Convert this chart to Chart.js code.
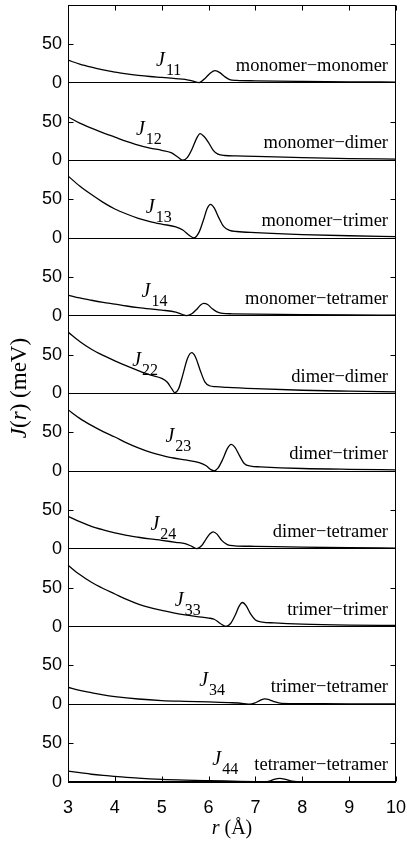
<!DOCTYPE html>
<html>
<head>
<meta charset="utf-8">
<script src="https://cdn.jsdelivr.net/npm/chart.js@4.4.0/dist/chart.umd.min.js"></script>
<style>
  html, body { margin: 0; padding: 0; background: #fff; }
  canvas { display: block; }
</style>
</head>
<body>
<canvas id="chart" width="407" height="841"></canvas>
<script>
// J(r) in meV, one pair of arrays per panel (r in Angstrom)
const r11 = [3, 3.25, 3.5, 3.75, 4, 4.25, 4.5, 4.75, 5, 5.3, 5.5, 5.65, 5.8, 5.94, 6.04, 6.14, 6.24, 6.34, 6.45, 6.6, 7, 8, 9, 10];
const j11 = [29, 24, 20, 16.5, 13.5, 11.3, 9.5, 8, 6.8, 5.3, 4.3, 2.3, 0.2, 6.5, 12.5, 15.5, 13, 8, 4, 3, 2.4, 1.6, 1.1, 0.8];

const r12 = [3, 3.25, 3.5, 3.75, 4, 4.25, 4.5, 4.75, 5, 5.2, 5.35, 5.45, 5.55, 5.65, 5.75, 5.82, 5.9, 6.0, 6.1, 6.2, 6.35, 6.6, 7, 8, 9, 10];
const j12 = [56, 48, 41.5, 35.5, 30, 24.5, 19.5, 15.8, 13, 10, 4, 0.3, 4, 15, 29, 34.5, 31, 23, 13, 8, 6.3, 5.8, 5.2, 3.5, 2.4, 1.7];

const r13 = [3, 3.25, 3.5, 3.75, 4, 4.25, 4.5, 4.75, 5, 5.3, 5.45, 5.6, 5.69, 5.8, 5.9, 5.97, 6.04, 6.12, 6.22, 6.32, 6.45, 6.6, 7, 8, 9, 10];
const j13 = [80, 67, 56, 46, 37.5, 31, 25.5, 21.3, 18, 14.5, 10.5, 3, 0.3, 8, 25, 38, 43.5, 39, 26, 15, 10, 8.5, 7, 4.5, 3, 2];

const r14 = [3, 3.25, 3.5, 3.75, 4, 4.25, 4.5, 4.75, 5, 5.3, 5.43, 5.53, 5.65, 5.75, 5.83, 5.9, 5.98, 6.08, 6.18, 6.3, 6.5, 7, 8, 9, 10];
const j14 = [26.7, 23, 20, 17.3, 15, 12.6, 10.5, 8.8, 7.3, 4.8, 2, 0.2, 3, 8.5, 14, 16, 14.5, 9, 5, 3, 2.6, 2.2, 1.6, 1.2, 0.9];

const r22 = [3, 3.25, 3.5, 3.75, 4, 4.25, 4.5, 4.75, 5, 5.12, 5.22, 5.28, 5.36, 5.45, 5.55, 5.64, 5.72, 5.82, 5.92, 6.02, 6.15, 6.4, 7, 8, 9, 10];
const j22 = [79, 67, 57, 49, 42, 35.5, 29.5, 24, 19.5, 14.5, 5.5, 1, 6, 24, 45, 52.5, 47, 30, 15, 10, 8.8, 7.8, 6.2, 4.2, 3, 2];

const r23 = [3, 3.25, 3.5, 3.75, 4, 4.25, 4.5, 4.75, 5, 5.25, 5.5, 5.8, 5.95, 6.05, 6.12, 6.2, 6.3, 6.4, 6.48, 6.56, 6.66, 6.76, 6.9, 7.1, 8, 9, 10];
const j23 = [79, 68, 59, 51, 44, 36.5, 30, 24.5, 20.5, 17, 14.5, 11, 7, 2, 0.5, 4, 15, 29, 34.5, 31, 20, 10, 6.5, 5.6, 3.5, 2.4, 1.7];

const r24 = [3, 3.25, 3.5, 3.75, 4, 4.25, 4.5, 4.75, 5, 5.3, 5.5, 5.65, 5.75, 5.85, 5.95, 6.03, 6.1, 6.18, 6.28, 6.4, 6.55, 7, 8, 9, 10];
const j24 = [42, 35, 29, 24.5, 20.7, 17.5, 15, 12.8, 11, 8.5, 6.9, 3, 0.3, 4, 13, 19.5, 22, 19, 11, 5.5, 4, 3.3, 2.2, 1.5, 1];

const r33 = [3, 3.25, 3.5, 3.75, 4, 4.25, 4.5, 4.75, 5, 5.25, 5.5, 5.75, 6, 6.12, 6.25, 6.37, 6.47, 6.57, 6.65, 6.72, 6.8, 6.9, 7.0, 7.15, 7.4, 8, 9, 10];
const j33 = [79, 67, 57, 49, 42, 35, 29, 24.5, 21, 17.8, 15, 12.8, 11, 9.5, 4, 0.3, 4, 15, 26, 31, 27, 16, 8.5, 5.8, 4.8, 3.3, 2, 1.4];

const r34 = [3, 3.25, 3.5, 3.75, 4, 4.5, 5, 5.5, 6, 6.5, 6.75, 6.88, 7.0, 7.1, 7.2, 7.3, 7.42, 7.56, 8, 9, 10];
const j34 = [22, 18, 15, 12.2, 10, 6.8, 4.8, 3.8, 3, 2, 1, 0.1, 2, 5, 7, 5.8, 3, 1.3, 0.9, 0.6, 0.5];

const r44 = [3, 3.25, 3.5, 3.75, 4, 4.5, 5, 5.5, 6, 6.5, 7, 7.2, 7.32, 7.42, 7.52, 7.62, 7.75, 7.9, 8.5, 9, 10];
const j44 = [14, 12, 10, 8.5, 7.3, 5, 3.4, 2.4, 1.7, 1.1, 0.5, 0.1, 1.5, 3.8, 4.7, 3.8, 1.5, 0.5, 0.3, 0.3, 0.2];

const subscripts = ['11', '12', '13', '14', '22', '23', '24', '33', '34', '44'];
const pairNames = [
  'monomer\u2212monomer', 'monomer\u2212dimer', 'monomer\u2212trimer', 'monomer\u2212tetramer',
  'dimer\u2212dimer', 'dimer\u2212trimer', 'dimer\u2212tetramer',
  'trimer\u2212trimer', 'trimer\u2212tetramer', 'tetramer\u2212tetramer'
];
const xTicks = [3, 4, 5, 6, 7, 8, 9, 10];
const yTickLabels = ['0', '50'];

const panels = [
  [r11, j11], [r12, j12], [r13, j13], [r14, j14], [r22, j22],
  [r23, j23], [r24, j24], [r33, j33], [r34, j34], [r44, j44]
];
const PANEL = 100; // each panel spans 0..100 meV
const nPanels = panels.length;

// where the J_ij label sits inside its panel, in (r, meV)
const jLabelPos = [
  [4.88, 21], [4.45, 33], [4.66, 32], [4.57, 24.5], [4.37, 36],
  [5.08, 37], [4.76, 24], [5.28, 27], [5.8, 24], [6.08, 21.5]
];

function offsetOf(k) { return (nPanels - 1 - k) * PANEL; }

const datasets = panels.map(([r, j], k) => ({
  label: 'J' + subscripts[k],
  data: r.map((rv, i) => ({ x: rv, y: j[i] + offsetOf(k) })),
  borderColor: '#000',
  borderWidth: 1.3,
  pointRadius: 0,
  fill: false,
  cubicInterpolationMode: 'monotone'
}));

const decorations = {
  id: 'decorations',
  afterDraw(chart) {
    const { ctx, chartArea: a, scales: { x, y } } = chart;
    const L = Math.round(a.left) + 0.5, R = Math.round(a.right) - 0.5;
    const T = Math.round(a.top) + 0.5, B = Math.round(a.bottom) - 0.5;
    ctx.save();
    ctx.strokeStyle = '#000';
    ctx.lineWidth = 1;
    ctx.strokeRect(L, T, R - L, B - T);

    // inward tick marks
    ctx.beginPath();
    xTicks.forEach(v => {
      const px = Math.round(x.getPixelForValue(v)) + 0.5;
      ctx.moveTo(px, T); ctx.lineTo(px, T + 5);
      ctx.moveTo(px, B); ctx.lineTo(px, B - 5);
    });
    for (let k = 0; k < nPanels; k++) {
      const py = Math.round(y.getPixelForValue(offsetOf(k) + 50)) + 0.5;
      ctx.moveTo(L, py); ctx.lineTo(L + 5, py);
      ctx.moveTo(R, py); ctx.lineTo(R - 5, py);
    }
    ctx.stroke();

    ctx.fillStyle = '#000';
    ctx.textBaseline = 'alphabetic';
    for (let k = 0; k < nPanels; k++) {
      const off = offsetOf(k);
      // J_ij label
      const px = x.getPixelForValue(jLabelPos[k][0]);
      const py = y.getPixelForValue(jLabelPos[k][1] + off);
      ctx.textAlign = 'left';
      ctx.font = 'italic 20px "Liberation Serif"';
      ctx.fillText('J', px, py);
      const w = ctx.measureText('J').width;
      ctx.font = '16px "Liberation Serif"';
      ctx.fillText(subscripts[k], px + w + 1, py + 9);
      // pair name on the right
      ctx.textAlign = 'right';
      ctx.font = '18.5px "Liberation Serif"';
      ctx.fillText(pairNames[k], a.right - 8, y.getPixelForValue(off) - 12);
    }

    // x title: r (Å)
    const parts = [['r', 'italic 20px "Liberation Serif"'], [' (\u00C5)', '20px "Liberation Serif"']];
    drawParts(ctx, parts, (a.left + a.right) / 2, 834);

    // y title: J(r) (meV), rotated
    ctx.translate(26, 388);
    ctx.rotate(-Math.PI / 2);
    const yparts = [
      ['J', 'italic 23px "Liberation Serif"'], ['(', '23px "Liberation Serif"'],
      ['r', 'italic 23px "Liberation Serif"'], [') (meV)', '23px "Liberation Serif"']
    ];
    drawParts(ctx, yparts, 0, 0);
    ctx.restore();
  }
};

function drawParts(ctx, parts, cx, baseline) {
  ctx.textAlign = 'left';
  let total = 0;
  parts.forEach(([t, f]) => { ctx.font = f; total += ctx.measureText(t).width; });
  let px = cx - total / 2;
  parts.forEach(([t, f]) => { ctx.font = f; ctx.fillText(t, px, baseline); px += ctx.measureText(t).width; });
}

new Chart(document.getElementById('chart'), {
  type: 'line',
  data: { datasets },
  options: {
    responsive: false,
    devicePixelRatio: 1,
    animation: false,
    layout: { padding: { left: 0, right: 11, top: 5, bottom: 0 } },
    plugins: { legend: { display: false }, tooltip: { enabled: false } },
    scales: {
      x: {
        type: 'linear',
        min: 3, max: 10,
        afterFit(scale) { scale.height = 59; scale.paddingLeft = 0; scale.paddingRight = 0; },
        afterBuildTicks(scale) { scale.ticks = xTicks.map(v => ({ value: v })); },
        ticks: {
          color: '#000',
          padding: 7,
          font: { family: '"Liberation Sans"', size: 18 },
          callback: v => String(v)
        },
        grid: { display: false },
        border: { display: false }
      },
      y: {
        type: 'linear',
        min: 0, max: nPanels * PANEL,
        afterFit(scale) { scale.width = 68; scale.paddingTop = 0; scale.paddingBottom = 0; },
        ticks: {
          stepSize: 50,
          color: '#000',
          padding: 6,
          font: { family: '"Liberation Sans"', size: 18 },
          callback: v => (v >= nPanels * PANEL ? '' : yTickLabels[(v % PANEL) / 50])
        },
        grid: {
          drawTicks: false,
          lineWidth: 1,
          color: c => (c.tick && c.tick.value % PANEL === 0 ? '#000' : 'rgba(0,0,0,0)')
        },
        border: { display: false }
      }
    }
  },
  plugins: [decorations]
});
</script>
</body>
</html>
